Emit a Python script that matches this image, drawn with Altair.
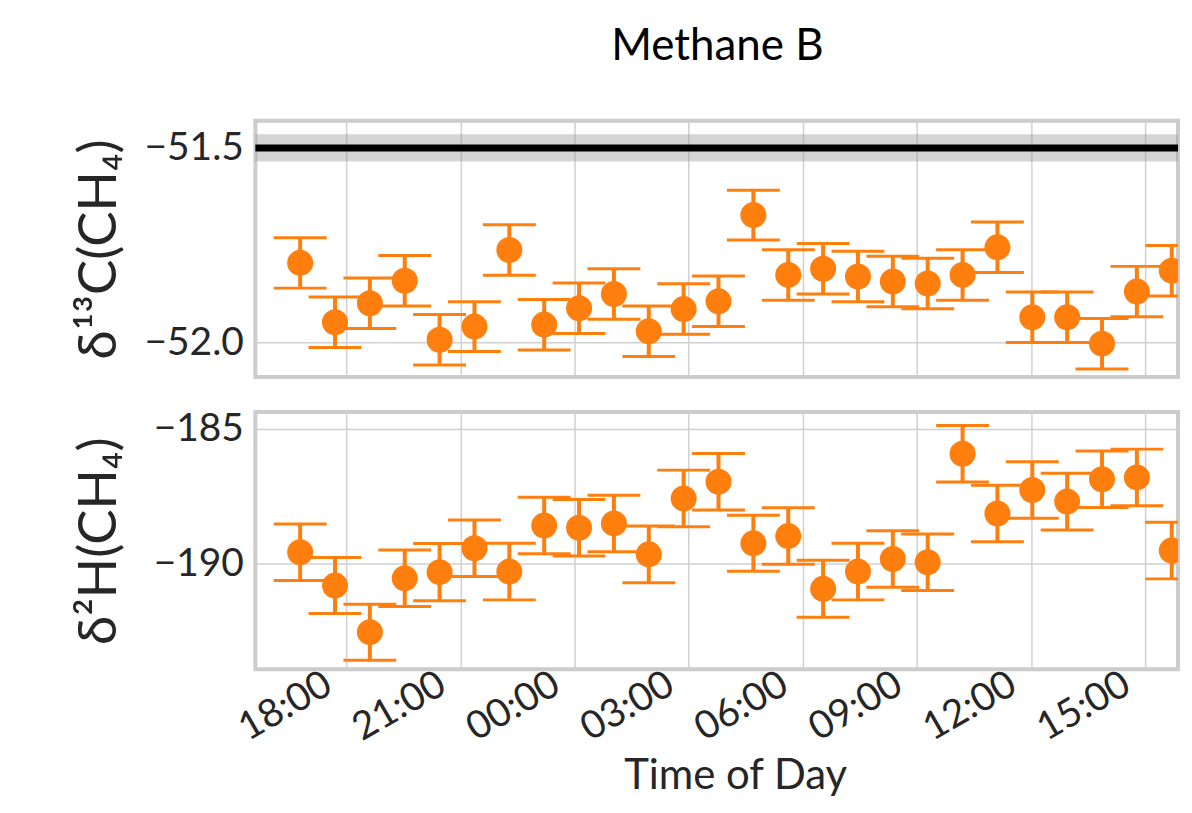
import altair as alt
import pandas as pd

# ---- data ----
times = ["16:47", "17:42", "18:37", "19:32", "20:27", "21:22", "22:17", "23:12",
         "00:07", "01:02", "01:57", "02:52", "03:47", "04:42", "05:37", "06:32",
         "07:27", "08:22", "09:17", "10:12", "11:07", "12:02", "12:57", "13:52",
         "14:47", "15:42"]
d13c = [-51.796, -51.949, -51.900, -51.842, -51.994, -51.960, -51.763, -51.955,
        -51.913, -51.876, -51.972, -51.915, -51.895, -51.673, -51.827, -51.811,
        -51.831, -51.844, -51.849, -51.827, -51.756, -51.936, -51.936, -52.004,
        -51.870, -51.816]
d13c_err = [0.065, 0.065, 0.065, 0.065, 0.065, 0.064, 0.065, 0.065,
            0.065, 0.065, 0.065, 0.065, 0.065, 0.064, 0.065, 0.065,
            0.065, 0.065, 0.065, 0.065, 0.065, 0.065, 0.065, 0.065,
            0.065, 0.065]
d2h = [-189.59, -190.83, -192.56, -190.56, -190.33, -189.44, -190.31, -188.60,
       -188.68, -188.52, -189.67, -187.59, -186.97, -189.26, -188.99, -190.95,
       -190.31, -189.84, -189.96, -185.93, -188.15, -187.28, -187.71, -186.88,
       -186.81, -189.53]
d2h_err = [1.05, 1.04, 1.04, 1.05, 1.06, 1.05, 1.05, 1.05,
           1.05, 1.05, 1.05, 1.05, 1.05, 1.04, 1.05, 1.06,
           1.05, 1.05, 1.05, 1.05, 1.05, 1.05, 1.05, 1.05,
           1.05, 1.05]
ref_d13c = [-51.5]
ref_d13c_unc = [0.035]
x_tick_hours = [18, 21, 24, 27, 30, 33, 36, 39]


def to_hours(t):
    h, m = t.split(":")
    v = int(h) + int(m) / 60.0
    return v + 24 if v < 16 else v


df = pd.DataFrame({"hours": [to_hours(t) for t in times],
                   "d13c": d13c, "d13c_err": d13c_err,
                   "d2h": d2h, "d2h_err": d2h_err})
df["c_lo"] = df["d13c"] - df["d13c_err"]
df["c_hi"] = df["d13c"] + df["d13c_err"]
df["h_lo"] = df["d2h"] - df["d2h_err"]
df["h_hi"] = df["d2h"] + df["d2h_err"]

ref = pd.DataFrame({"v": ref_d13c, "unc": ref_d13c_unc})
ref["lo"] = ref["v"] - ref["unc"]
ref["hi"] = ref["v"] + ref["unc"]

FONT = "Lato"
ORANGE = "#ff7f0e"
W = 925
H_TOP = 257
H_BOT = 258
XDOM = [15.606, 39.865]
xscale = alt.Scale(domain=XDOM, nice=False, zero=False)

x_top = alt.Axis(values=x_tick_hours, labels=False, title=None, grid=True,
                 ticks=False, domain=False)
x_bot = alt.Axis(values=x_tick_hours, grid=True, ticks=False, domain=False,
                 title="Time of Day", labelAngle=330, labelAlign="right",
                 labelBaseline="top", labelPadding=-5, labelOffset=-28,
                 labelOverlap=False, labelFlush=False, labelFontSize=39,
                 labelExpr="(datum.value % 24 < 10 ? '0' : '') + (datum.value % 24) + ':00'",
                 titlePadding=8, titleFontSize=42, titleX=481)


def panel(x_axis, yfield, lofield, hifield, ydomain, yvalues, yformat, ytitle,
          height, extra=None):
    yscale = alt.Scale(domain=ydomain, nice=False, zero=False)
    yaxis = alt.Axis(values=yvalues, format=yformat, title=ytitle,
                     ticks=False, domain=False, grid=True, labelPadding=12,
                     titleX=-129, titleFontSize=53)
    base = alt.Chart(df)
    bars = base.mark_rule(color=ORANGE, strokeWidth=4, clip=True).encode(
        x=alt.X("hours:Q", scale=xscale, axis=x_axis),
        y=alt.Y(f"{lofield}:Q", scale=yscale, axis=yaxis),
        y2=f"{hifield}:Q")
    cap_lo = base.mark_tick(color=ORANGE, thickness=3, size=53, clip=True,
                            orient="horizontal", opacity=1).encode(
        x=alt.X("hours:Q", scale=xscale, axis=x_axis),
        y=alt.Y(f"{lofield}:Q", scale=yscale, axis=yaxis))
    cap_hi = base.mark_tick(color=ORANGE, thickness=3, size=53, clip=True,
                            orient="horizontal", opacity=1).encode(
        x=alt.X("hours:Q", scale=xscale, axis=x_axis),
        y=alt.Y(f"{hifield}:Q", scale=yscale, axis=yaxis))
    pts = base.mark_circle(color=ORANGE, size=680, opacity=1, clip=True).encode(
        x=alt.X("hours:Q", scale=xscale, axis=x_axis),
        y=alt.Y(f"{yfield}:Q", scale=yscale, axis=yaxis))
    layers = []
    if extra is not None:
        layers += extra(yscale, yaxis)
    layers += [bars, cap_lo, cap_hi, pts]
    return alt.layer(*layers).properties(width=W, height=height)


def ref_layers(yscale, yaxis):
    band = alt.Chart(ref).mark_rect(color="#9a9a9a", opacity=0.42).encode(
        x=alt.value(0), x2=alt.value("width"),
        y=alt.Y("lo:Q", scale=yscale, axis=yaxis), y2="hi:Q")
    line = alt.Chart(ref).mark_rule(color="black", strokeWidth=7).encode(
        y=alt.Y("v:Q", scale=yscale, axis=yaxis))
    return [band, line]


top = panel(x_top, "d13c", "c_lo", "c_hi", [-52.09, -51.43], [-52.0, -51.5],
            ".1f", "δ¹³C(CH₄)", H_TOP, extra=ref_layers)
bot = panel(x_bot, "d2h", "h_lo", "h_hi", [-193.94, -184.38], [-185, -190],
            "d", "δ²H(CH₄)", H_BOT)

chart = alt.vconcat(top, bot, spacing=28).properties(
    title=alt.TitleParams("Methane B", font=FONT, fontSize=44,
                          fontWeight="normal", color="black", anchor="middle",
                          dx=90, offset=50),
    padding={"left": 64, "top": 16, "right": 0, "bottom": 0},
).configure_view(
    stroke="#cccccc", strokeWidth=4
).configure_axis(
    labelFont=FONT, labelFontSize=39, labelColor="#262626",
    titleFont=FONT, titleFontSize=42, titleColor="#262626",
    titleFontWeight="normal",
    gridColor="#d0d0d0", gridWidth=1.5,
)

chart.save("out.html", embed_options={"renderer": "svg", "actions": False})
